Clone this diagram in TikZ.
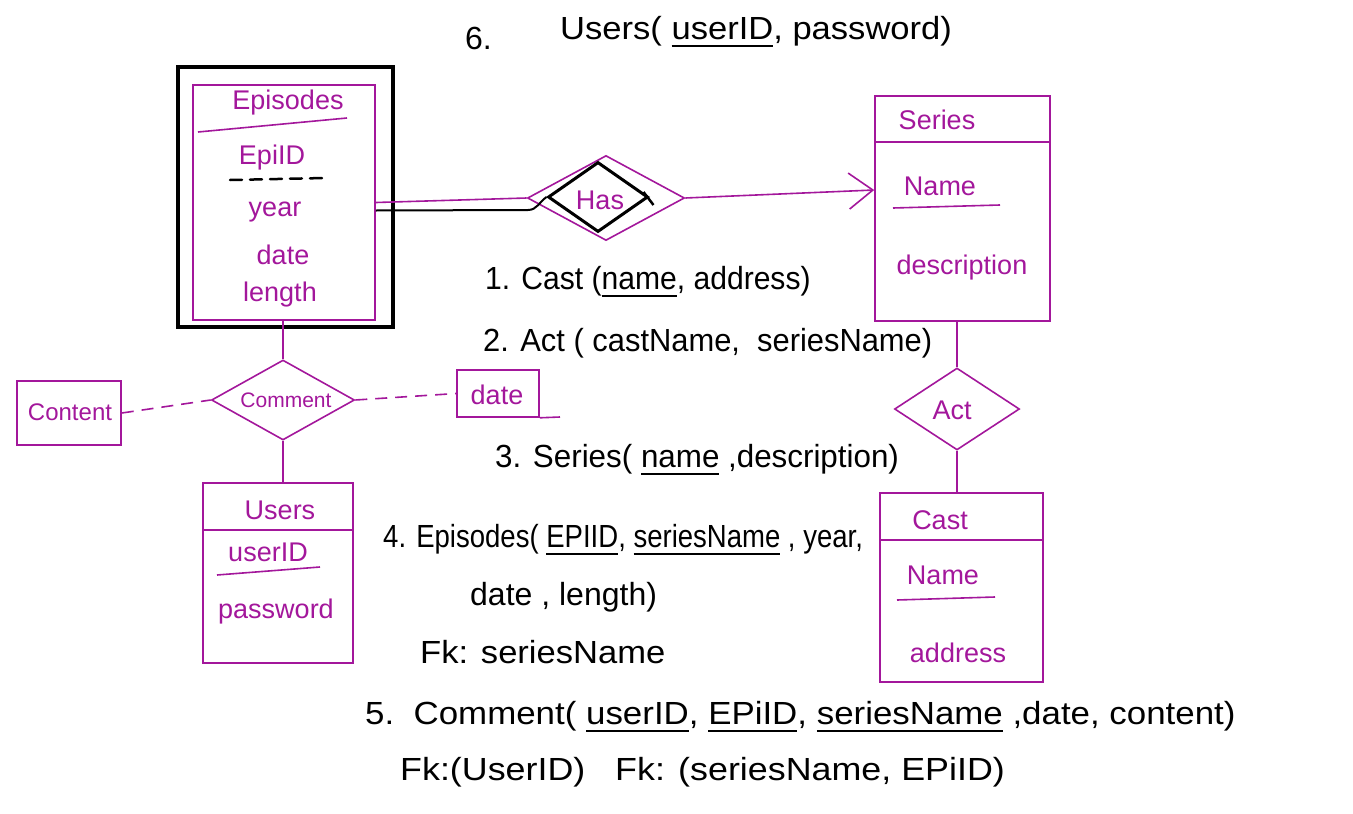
\documentclass[tikz,border=0pt]{standalone}
\usepackage{graphicx}
\usepackage{fontspec}
\setmainfont{Liberation Sans}
\usetikzlibrary{shapes.geometric,arrows.meta}
\definecolor{ink}{RGB}{163,23,155}
\newcommand\myul[1]{\setbox0\hbox{#1}\rlap{\rule[-0.24em]{\wd0}{2.2pt}}\box0\relax}
\begin{document}
\begin{tikzpicture}[x=1pt,y=-1pt,
  mag/.style={draw=ink,line width=1.6pt},
  mtext/.style={text=ink,font=\fontsize{27}{30}\selectfont,inner sep=0pt},
  btext/.style={text=black,font=\fontsize{32}{36}\selectfont,inner sep=0pt,anchor=west},
  ebox/.style={draw=ink,line width=1.6pt,inner sep=0pt},
  rel/.style={diamond,draw=ink,line width=1.6pt,inner sep=0pt},
  dashconn/.style={draw=ink,line width=1.6pt,dash pattern=on 12pt off 8pt},
]
\useasboundingbox (0,0) rectangle (1353,814);

% ---------- Episodes (weak entity) ----------
\node[draw=black,line width=3.5pt,minimum width=215pt,minimum height=260pt,inner sep=0pt] (epout) at (285.5,197) {};
\node[ebox,minimum width=182pt,minimum height=235pt] (epin) at (284,202.5) {};
\draw[mag] (198,132) -- (347,118);
\node[mtext] (eptitle) at (288,103) {Episodes};
\node[mtext] (epid) at (272,158) {EpiID};
\draw[black,line width=2.5pt,dash pattern=on 12pt off 8pt,line cap=round] (230,180) -- (325,178);
\node[mtext] (epyear) at (275,212) {year};
\node[mtext] (epdate) at (283,255) {date};
\node[mtext] (eplen) at (280,295) {length};

% ---------- Has (identifying relationship) ----------
\node[rel,minimum width=157pt,minimum height=85pt] (has) at (606,198) {};
\node[diamond,draw=black,line width=3pt,minimum width=100pt,minimum height=70pt,inner sep=0pt] (hasin) at (598,197) {};
\node[mtext] (haslbl) at (600,200) {Has};
\draw[black,line width=2.5pt] ([xshift=-6pt,yshift=5pt]hasin.east) -- ([xshift=4pt,yshift=-8pt]hasin.east);

% ---------- Series ----------
\node[ebox,minimum width=175pt,minimum height=225pt] (series) at (962.5,208.5) {};
\draw[mag] (series.west |- 0,142) -- (series.east |- 0,142);
\node[mtext] (sertitle) at (937,120) {Series};
\node[mtext] (sername) at (940,186) {Name};
\draw[mag] (893,208) -- (1000,205);
\node[mtext] (serdesc) at (962,268) {description};

% ---------- Act ----------
\node[rel,minimum width=125pt,minimum height=82pt] (act) at (957,409) {};
\node[mtext] (actlbl) at (952,410) {Act};

% ---------- Cast ----------
\node[ebox,minimum width=163pt,minimum height=189pt] (cast) at (961.5,587.5) {};
\draw[mag] (cast.west |- 0,540) -- (cast.east |- 0,540);
\node[mtext] (casttitle) at (940,520) {Cast};
\node[mtext] (castname) at (943,575) {Name};
\draw[mag] (897,600) -- (995,597);
\node[mtext] (castaddr) at (958,653) {address};

% ---------- Comment ----------
\node[rel,minimum width=143pt,minimum height=80pt] (comment) at (283,400) {};
\node[mtext,font=\fontsize{21}{24}\selectfont] (commlbl) at (286,400) {Comment};

\node[ebox,minimum width=104pt,minimum height=64pt] (content) at (69,413) {};
\node[mtext,font=\fontsize{24}{26}\selectfont] (contentlbl) at (70,412) {Content};

\node[ebox,minimum width=82pt,minimum height=47pt] (datebox) at (498,393.5) {};
\node[mtext] (datelbl) at (497,395) {date};
\coordinate (dateext) at (560,417);
\draw[mag] (datebox.south east) -- (dateext);

% ---------- Users ----------
\node[ebox,minimum width=150pt,minimum height=180pt] (users) at (278,573) {};
\draw[mag] (users.west |- 0,530) -- (users.east |- 0,530);
\node[mtext] (usertitle) at (280,510) {Users};
\node[mtext] (userid) at (268,552) {userID};
\draw[mag] (217,575) -- (320,567);
\node[mtext] (userpw) at (276,612) {password};

% ---------- Connectors ----------
\draw[mag] (epin.east) -- (has.west);
\coordinate (hasbend) at (528,210);
\draw[black,line width=2pt] ([yshift=-8pt]epin.east) -- (hasbend) to[out=0,in=215] (hasin.west);
\draw[mag,-{Straight Barb[length=24pt,width=36pt]}] (has.east) -- (series.west |- 0,190);
\draw[mag] (act.north |- series.south) -- (act.north);
\draw[mag] (act.south) -- (act.south |- cast.north);
\draw[mag] (comment.north |- epin.south) -- (comment.north);
\draw[mag] (comment.south) -- (comment.south |- users.north);
\draw[dashconn] (content.east) -- (comment.west);
\draw[dashconn] (comment.east) -- (datebox.west);

% ---------- Relational schema (black text) ----------
\node[btext] (r6n) at (465,38) {6.};
\node[btext] (r6) at (560,32) {\scalebox{1.08}[1]{Users( \myul{userID}, password)}};
\node[btext] (r1) at (485,282) {\scalebox{0.94}[1]{1. Cast (\myul{name}, address)}};
\node[btext] (r2) at (483,343) {\scalebox{0.965}[1]{2. Act ( castName,\ \ seriesName)}};
\node[btext] (r3) at (495,460) {\scalebox{0.98}[1]{3. Series( \myul{name} ,description)}};
\node[btext] (r4) at (383,540) {\scalebox{0.86}[1]{4. Episodes( \myul{EPIID}, \myul{seriesName} , year,}};
\node[btext] (r4b) at (470,597) {date , length)};
\node[btext] (r4c) at (420,652) {\scalebox{1.08}[1]{Fk: seriesName}};
\node[btext] (r5) at (365,717) {\scalebox{1.09}[1]{5.\ \ Comment( \myul{userID}, \myul{EPiID}, \myul{seriesName} ,date, content)}};
\node[btext] (r5b) at (400,772) {\scalebox{1.12}[1]{Fk:(UserID)\ \ \ Fk: (seriesName, EPiID)}};
\end{tikzpicture}
\end{document}
